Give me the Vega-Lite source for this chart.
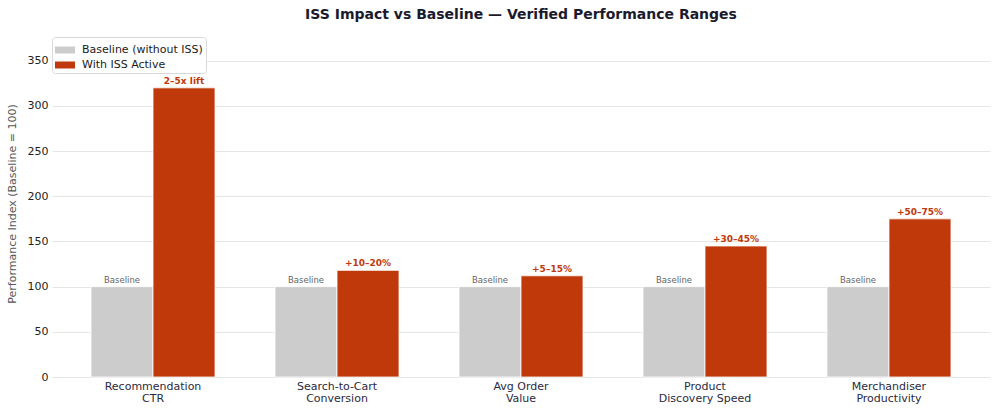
{
  "$schema": "https://vega.github.io/schema/vega-lite/v6.json",
  "autosize": "none",
  "width": 938,
  "height": 347,
  "padding": {"left": 52, "top": 30, "right": 10, "bottom": 33},
  "background": "white",
  "title": {
    "text": "ISS Impact vs Baseline — Verified Performance Ranges",
    "font": "DejaVu Sans",
    "fontSize": 14,
    "fontWeight": "bold",
    "color": "#1a1a2e",
    "anchor": "middle",
    "offset": 8
  },
  "config": {
    "view": {"stroke": null},
    "font": "DejaVu Sans"
  },
  "data": {
    "values": [
      {"metric": "Recommendation\nCTR", "series": "Baseline (without ISS)", "value": 100, "label": "Baseline"},
      {"metric": "Recommendation\nCTR", "series": "With ISS Active", "value": 320, "label": "2–5x lift"},
      {"metric": "Search-to-Cart\nConversion", "series": "Baseline (without ISS)", "value": 100, "label": "Baseline"},
      {"metric": "Search-to-Cart\nConversion", "series": "With ISS Active", "value": 118, "label": "+10–20%"},
      {"metric": "Avg Order\nValue", "series": "Baseline (without ISS)", "value": 100, "label": "Baseline"},
      {"metric": "Avg Order\nValue", "series": "With ISS Active", "value": 112, "label": "+5–15%"},
      {"metric": "Product\nDiscovery Speed", "series": "Baseline (without ISS)", "value": 100, "label": "Baseline"},
      {"metric": "Product\nDiscovery Speed", "series": "With ISS Active", "value": 145, "label": "+30–45%"},
      {"metric": "Merchandiser\nProductivity", "series": "Baseline (without ISS)", "value": 100, "label": "Baseline"},
      {"metric": "Merchandiser\nProductivity", "series": "With ISS Active", "value": 175, "label": "+50–75%"}
    ]
  },
  "encoding": {
    "x": {
      "field": "metric",
      "type": "nominal",
      "sort": null,
      "scale": {"paddingInner": 0.326, "paddingOuter": 0.212},
      "axis": {
        "title": null,
        "labelAngle": 0,
        "labelExpr": "split(datum.label, '\\n')",
        "labelFontSize": 11,
        "labelColor": "#2a2a3e",
        "labelPadding": 3,
        "labelLineHeight": 12,
        "domain": false,
        "ticks": false
      }
    },
    "xOffset": {
      "field": "series",
      "type": "nominal",
      "scale": {"domain": ["Baseline (without ISS)", "With ISS Active"], "paddingInner": 0}
    },
    "y": {
      "field": "value",
      "type": "quantitative",
      "scale": {"domain": [0, 384], "nice": false},
      "axis": {
        "title": "Performance Index (Baseline = 100)",
        "titleFontSize": 11,
        "titleFontWeight": "normal",
        "titleColor": "#555555",
        "titlePadding": 10,
        "values": [0, 50, 100, 150, 200, 250, 300, 350],
        "labelFontSize": 11,
        "labelColor": "#222222",
        "labelPadding": 4,
        "domain": false,
        "ticks": false,
        "grid": true,
        "gridColor": "#e6e6e6",
        "gridWidth": 1
      }
    }
  },
  "layer": [
    {
      "mark": {"type": "bar", "stroke": "white", "strokeWidth": 0.8},
      "encoding": {
        "color": {
          "field": "series",
          "type": "nominal",
          "scale": {"domain": ["Baseline (without ISS)", "With ISS Active"], "range": ["#cccccc", "#bf390b"]},
          "legend": {
            "title": null,
            "orient": "none",
            "legendX": 0,
            "legendY": 7,
            "direction": "vertical",
            "fillColor": "white",
            "strokeColor": "#d9d9d9",
            "cornerRadius": 3,
            "padding": 3,
            "symbolType": "M-1,-0.35H1V0.35H-1Z",
            "symbolSize": 400,
            "symbolStrokeWidth": 0,
            "labelFontSize": 11,
            "labelColor": "#1a1a1a",
            "labelOffset": 7,
            "rowPadding": 0
          }
        }
      }
    },
    {
      "transform": [{"filter": "datum.series === 'Baseline (without ISS)'"}],
      "mark": {"type": "text", "baseline": "bottom", "dy": -2, "fontSize": 8.5, "color": "#666666"},
      "encoding": {"text": {"field": "label"}}
    },
    {
      "transform": [{"filter": "datum.series === 'With ISS Active'"}],
      "mark": {"type": "text", "baseline": "bottom", "dy": -2, "fontSize": 9, "fontWeight": "bold", "color": "#bf390b"},
      "encoding": {"text": {"field": "label"}}
    }
  ]
}
